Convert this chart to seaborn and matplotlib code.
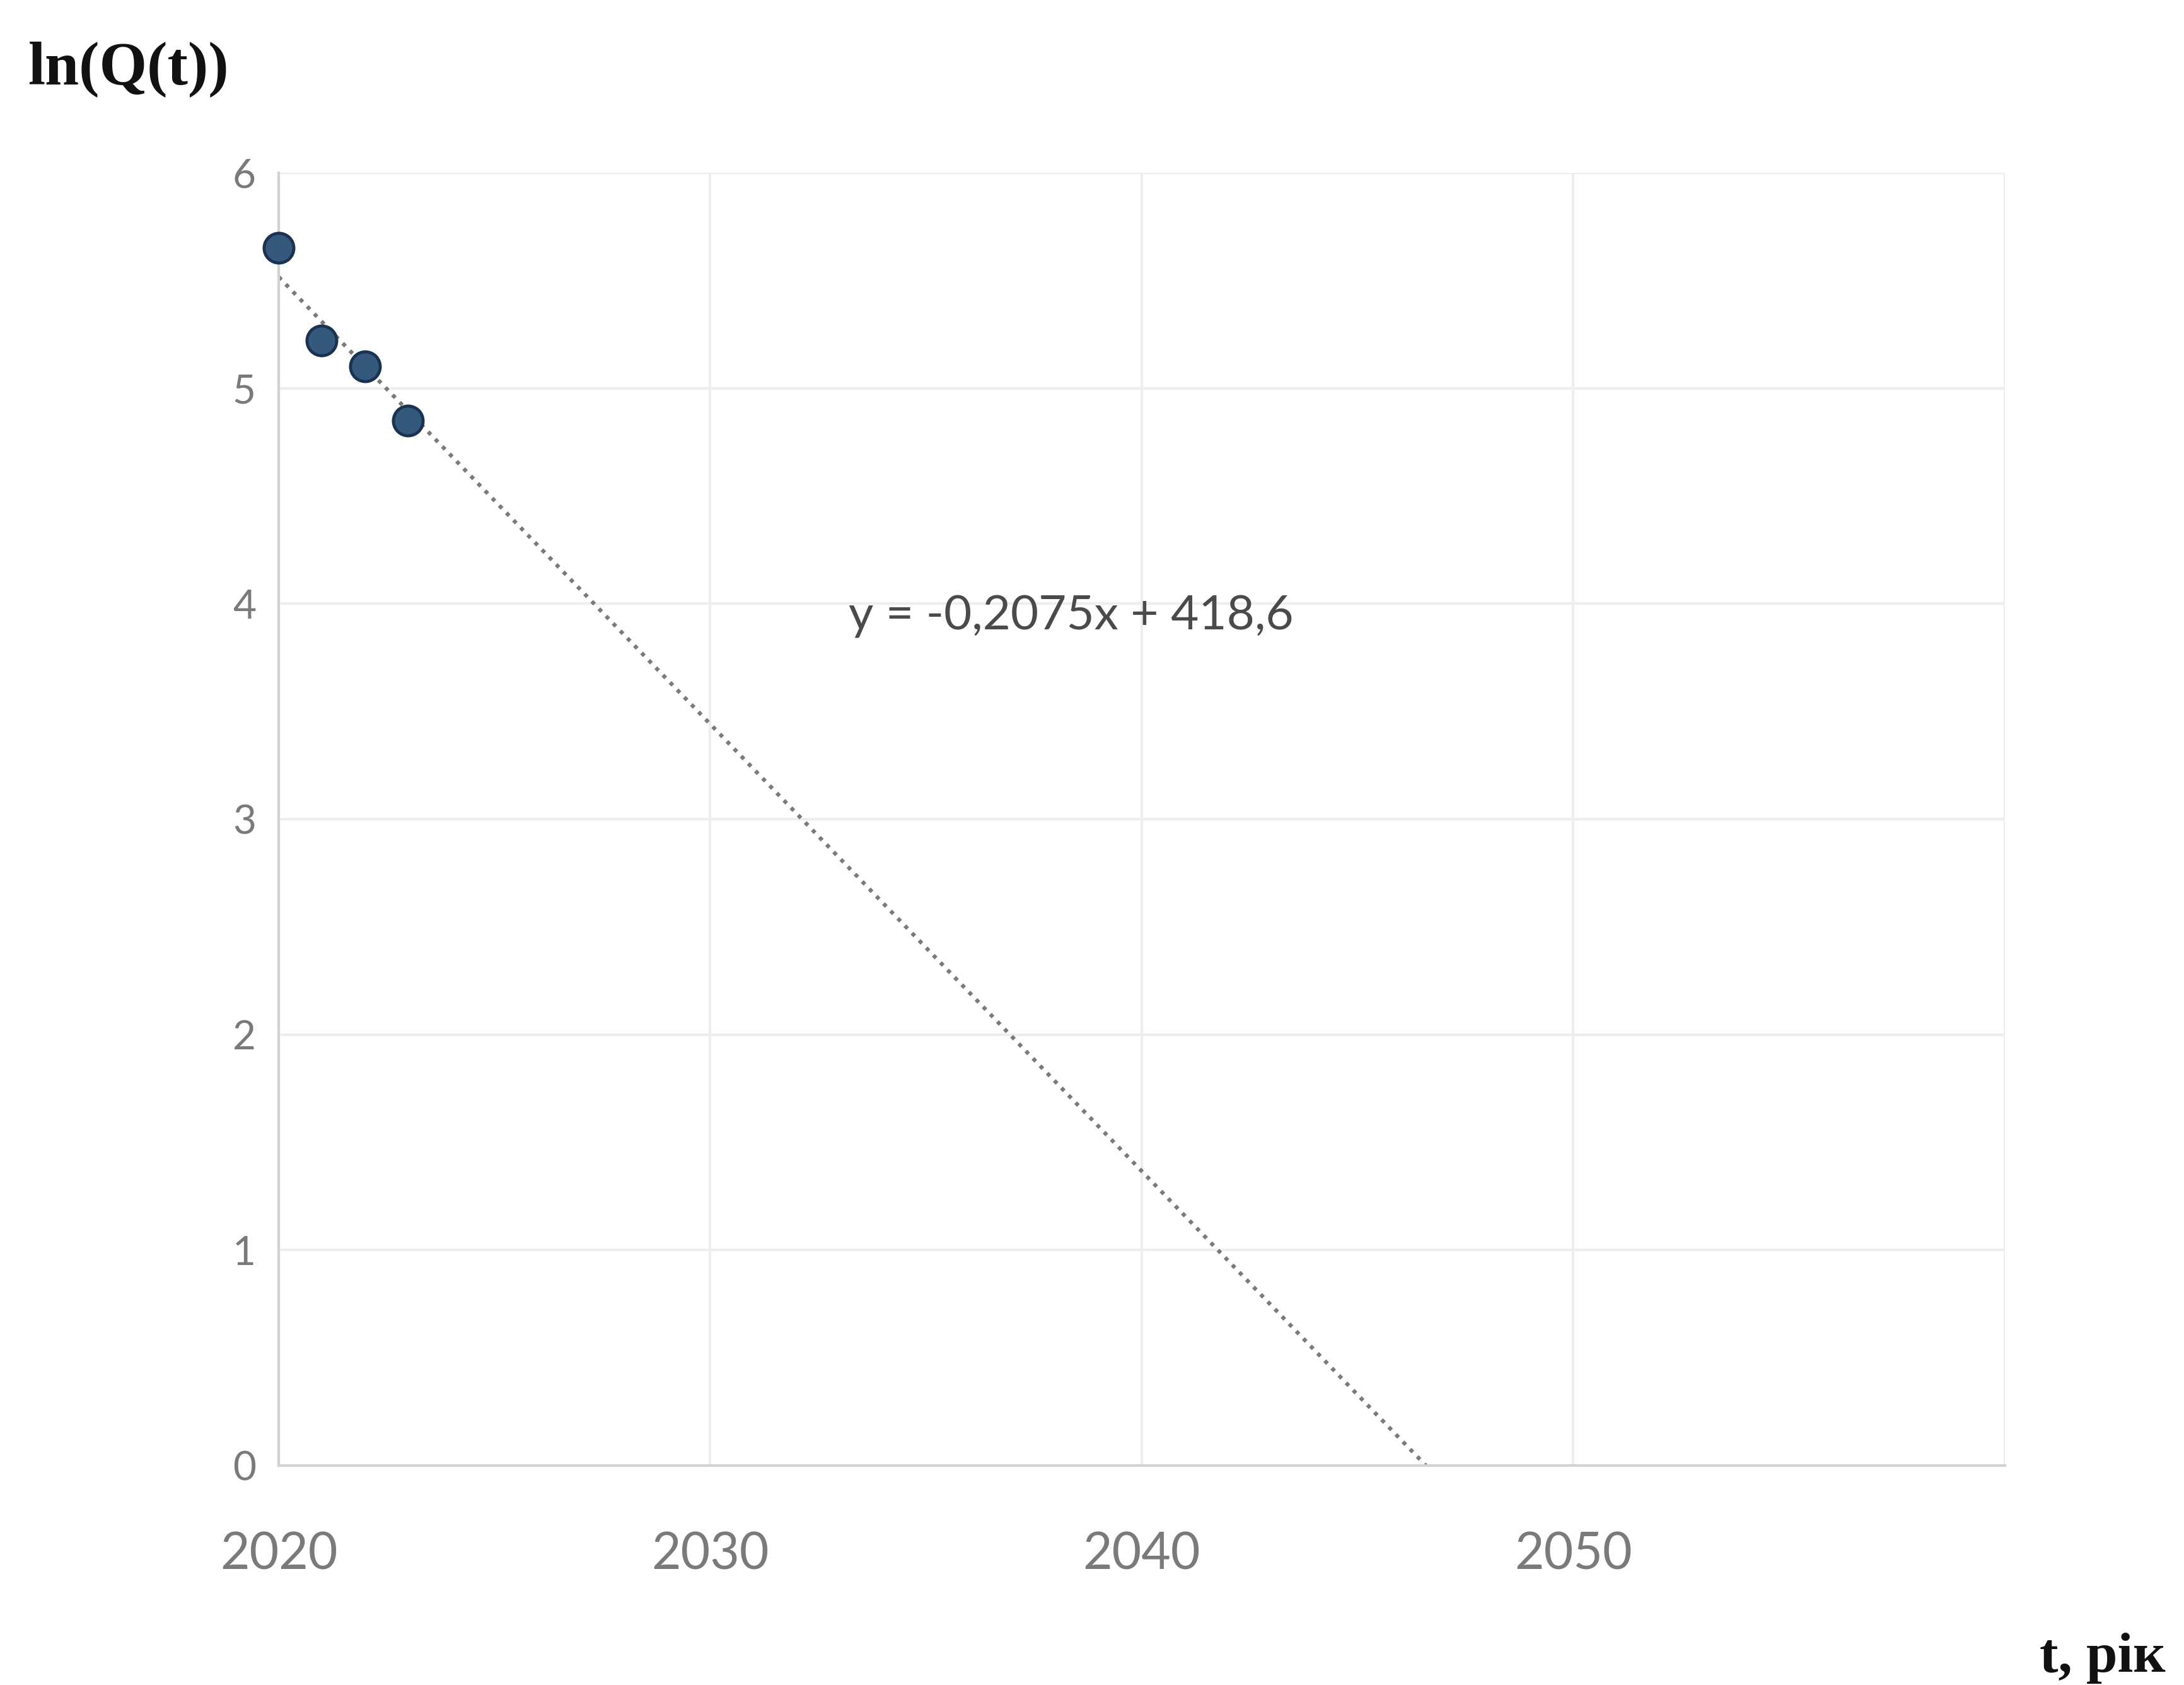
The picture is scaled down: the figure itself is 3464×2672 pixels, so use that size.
import numpy as np
import pandas as pd
import matplotlib
matplotlib.use("Agg")
import matplotlib.pyplot as plt
import seaborn as sns

# Observed values of ln(Q(t)) by year
years = [2020, 2021, 2022, 2023]
ln_q = [5.65, 5.22, 5.10, 4.85]

# Linear trend as printed on the chart
trend_slope = -0.2075
equation_text = "y = -0,2075x + 418,6"

# Axis ticks
x_ticks = [2020, 2030, 2040, 2050, 2060]
x_tick_labels = ["2020", "2030", "2040", "2050", ""]
y_ticks = [0, 1, 2, 3, 4, 5, 6]

y_title = "ln(Q(t))"
x_title = "t, рік"

sns.set_theme(style="white")
plt.rcParams["font.family"] = ["Lato", "DejaVu Sans"]

df = pd.DataFrame({"year": years, "lnq": ln_q})

# Trend passes through the centroid of the observations with the printed slope,
# extended forward until it reaches zero
x_c, y_c = np.mean(years), np.mean(ln_q)
x_zero = x_c - y_c / trend_slope
trend = pd.DataFrame({"year": [years[0], x_zero]})
trend["lnq"] = y_c + trend_slope * (trend["year"] - x_c)

fig = plt.figure(figsize=(34.64, 26.72), dpi=100)
ax = fig.add_axes([0.1276, 0.1302, 0.918 - 0.1276, 0.8975 - 0.1302])

sns.lineplot(data=trend, x="year", y="lnq", ax=ax, color="#7a7a7a",
             linewidth=4.5, linestyle=(0, (1, 1.6)), zorder=2)
sns.scatterplot(data=df, x="year", y="lnq", ax=ax, s=1150,
                color="#35597c", edgecolor="#1b3350", linewidth=3.5, zorder=3)
for coll in ax.collections:
    coll.set_clip_on(False)

ax.set_xlim(2020, 2060)
ax.set_ylim(0, 6)
ax.set_xticks(x_ticks)
ax.set_xticklabels(x_tick_labels)
ax.set_yticks(y_ticks)
ax.grid(True, color="#eeeeee", linewidth=3)
ax.set_axisbelow(True)

for side in ["top", "right"]:
    ax.spines[side].set_visible(False)
for side in ["left", "bottom"]:
    ax.spines[side].set_color("#d2d2d2")
    ax.spines[side].set_linewidth(3)

ax.tick_params(axis="x", length=0, pad=75, labelsize=58, labelcolor="#7a7a7a")
ax.tick_params(axis="y", length=0, pad=26, labelsize=46, labelcolor="#7a7a7a")
ax.set_xlabel("")
ax.set_ylabel("")

ax.text(2033.2, 3.94, equation_text, fontsize=55, color="#4a4a4a",
        ha="left", va="center")

fig.text(0.0127, 0.959, y_title, family=["Liberation Serif", "DejaVu Serif"],
         fontsize=70, fontweight="bold", color="#111111", ha="left", va="center")
fig.text(0.934, 0.016, x_title, family=["Liberation Serif", "DejaVu Serif"],
         fontsize=64, fontweight="bold", color="#111111", ha="left", va="center")

fig.savefig("out.png", dpi=100, facecolor="white")
